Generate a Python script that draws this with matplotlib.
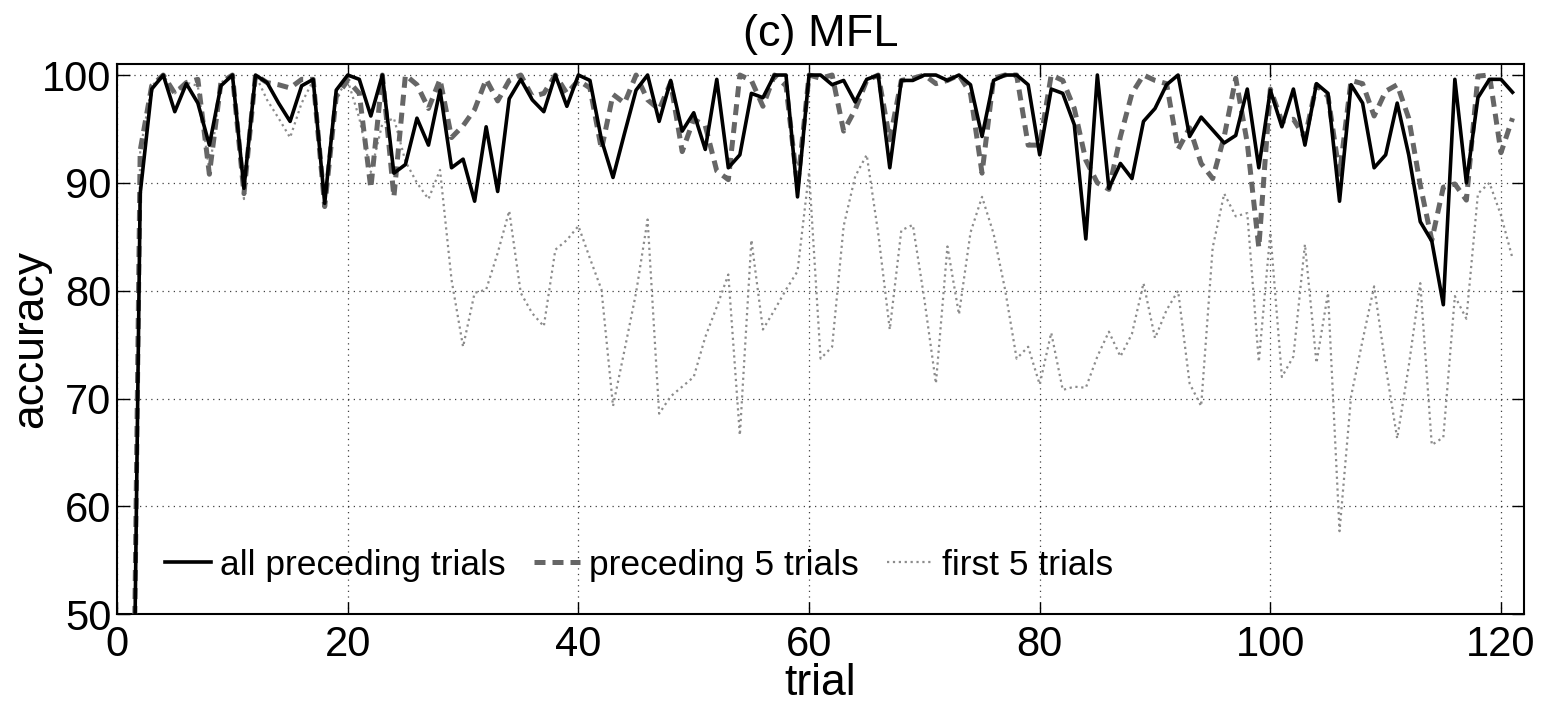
import numpy as np
import matplotlib.pyplot as plt

plt.rcParams['font.family'] = ['Liberation Sans', 'DejaVu Sans']

trial = np.arange(1, 122)

# all preceding trials
acc_all = [0, 89, 98.7, 100, 96.6, 99.2, 97.4, 93.5, 99.0, 100,
           89.5, 100, 99.3, 97.4, 95.7, 99.0, 99.6, 88.1, 98.6, 100,
           99.6, 96.2, 100, 90.9, 91.7, 96.0, 93.5, 98.6, 91.4, 92.2,
           88.3, 95.2, 89.2, 97.8, 99.6, 97.7, 96.6, 100, 97.1, 100,
           99.5, 94.0, 90.5, 94.6, 98.6, 100, 95.7, 99.5, 94.8, 96.5,
           93.1, 99.6, 91.4, 92.6, 98.3, 97.9, 100, 100, 88.7, 100,
           100, 99.1, 99.5, 97.5, 99.6, 100, 91.4, 99.5, 99.5, 100,
           100, 99.5, 100, 99.1, 94.3, 99.5, 100, 100, 99.1, 92.6,
           98.7, 98.3, 95.4, 84.8, 100, 89.5, 91.8, 90.4, 95.7, 96.9,
           99.1, 100, 94.3, 96.1, 94.9, 93.7, 94.4, 98.7, 91.4, 98.6,
           95.2, 98.7, 93.5, 99.2, 98.3, 88.3, 99.1, 97.4, 91.4, 92.6,
           97.4, 92.6, 86.4, 84.6, 78.7, 99.6, 90.0, 97.9, 99.6, 99.6,
           98.4]

# preceding 5 trials
acc_prev5 = [0, 93, 99, 100, 98.3, 99.3, 99.6, 90.8, 99.3, 100,
             89, 100, 99.3, 99.1, 98.8, 99.6, 99.6, 87.8, 98, 99.5,
             98.3, 89.5, 100, 88.7, 100, 99.1, 96.9, 99.6, 94.2, 95.3,
             96.8, 99.6, 97.6, 99.5, 100, 98, 98.3, 100, 98.3, 99.5,
             98.8, 93.1, 98.2, 97.4, 100, 97.7, 96.8, 99.3, 92.9, 95.9,
             95.3, 91.1, 90.3, 100, 99.5, 97.1, 100, 99, 89.7, 100,
             99.7, 100, 94.8, 96.8, 99.5, 100, 94, 99.5, 99.7, 100,
             99.2, 99.5, 100, 98.3, 90.9, 99.7, 100, 100, 93.5, 93.5,
             100, 99.5, 96.9, 92.1, 90, 89.4, 94.3, 98.3, 100, 99.5,
             99.2, 93.1, 95.1, 91.8, 90.4, 94.3, 99.7, 93.7, 84, 98.7,
             95.7, 95.9, 94.2, 99.1, 98, 90.8, 99.5, 99.2, 96.2, 98.5,
             99.1, 96, 89.8, 84.7, 89.6, 89.9, 88.4, 99.9, 100, 92.8,
             96]

# first 5 trials
acc_first5 = [0, 93, 99, 100, 98.3, 99.3, 99, 91, 99.3, 100,
              88.5, 100, 97.7, 96, 94.2, 97.4, 99.5, 88, 98, 99.5,
              96, 91, 95.5, 96, 92, 90, 88.5, 91.2, 81, 74.8,
              79.8, 80.1, 83.5, 87.4, 79.8, 77.9, 76.7, 83.8, 84.7, 86,
              83, 80.1, 69.3, 74.5, 79.8, 86.6, 68.6, 70.2, 71.1, 72,
              75.7, 78.5, 81.5, 66.6, 84.7, 76.4, 78.2, 80.1, 81.8, 91,
              73.7, 74.8, 86, 90.6, 92.6, 85.3, 76.4, 85.6, 86.1, 79.2,
              71.4, 84.1, 77.8, 85.4, 88.7, 85.3, 80.1, 73.7, 74.8, 71.3,
              76.1, 70.8, 71.1, 71, 73.9, 76.2, 73.9, 76, 80.7, 75.6,
              78.2, 80, 71.4, 69.3, 84, 89, 86.9, 87.2, 73.4, 85.4,
              72, 73.9, 84.3, 73.3, 79.8, 57.7, 70.2, 75.4, 80.4, 73,
              66.3, 73, 80.7, 65.7, 66.4, 79.5, 77.4, 89, 90, 87,
              83]

fig = plt.figure(figsize=(15.41, 7.06), dpi=100)
ax = fig.add_axes([0.076, 0.13, 0.913, 0.779])

ax.plot(trial, acc_first5, color='#8c8c8c', linestyle=':', linewidth=1.6,
        label='first 5 trials', zorder=2)
ax.plot(trial, acc_prev5, color='#666666', linestyle='--', linewidth=3.6,
        dashes=(2.2, 1.4), label='preceding 5 trials', zorder=3)
ax.plot(trial, acc_all, color='black', linestyle='-', linewidth=2.6,
        label='all preceding trials', zorder=4)

ax.set_xlim(0, 122)
ax.set_ylim(50, 101)
ax.set_xticks(range(0, 121, 20))
ax.set_yticks(range(50, 101, 10))
ax.grid(True, linestyle=(0, (1, 3.5)), color='black', linewidth=0.9, alpha=0.75)
ax.tick_params(direction='in', length=9, width=1, top=True, right=True,
               labelsize=30)
ax.tick_params(axis='x', pad=8)
ax.tick_params(axis='y', pad=4)
for s in ax.spines.values():
    s.set_linewidth(1.5)

ax.set_title('(c) MFL', fontsize=32.5, pad=13)
ax.set_xlabel('trial', fontsize=32)
ax.set_ylabel('accuracy', fontsize=32)
ax.xaxis.set_label_coords(0.5, -0.088)
ax.yaxis.set_label_coords(-0.047, 0.5)

h, l = ax.get_legend_handles_labels()
ax.legend(h[::-1], l[::-1], loc='center left', bbox_to_anchor=(0.034, 0.089),
          ncol=3, frameon=False, fontsize=25.5, handlelength=1.3,
          handletextpad=0.25, columnspacing=0.8, borderpad=0, borderaxespad=0)

fig.savefig('out.png', dpi=100)
